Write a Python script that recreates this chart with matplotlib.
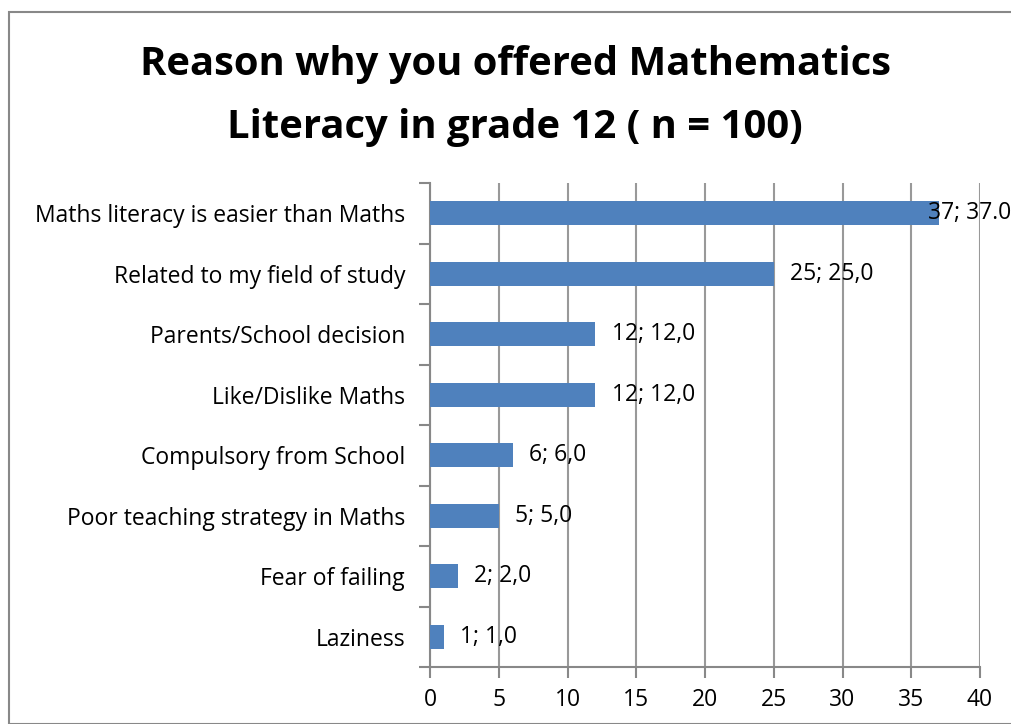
import matplotlib.pyplot as plt
import matplotlib.patches as patches
import numpy as np

# chart data, top to bottom
reasons = ["Maths literacy is easier than Maths", "Related to my field of study",
           "Parents/School decision", "Like/Dislike Maths", "Compulsory from School",
           "Poor teaching strategy in Maths", "Fear of failing", "Laziness"]
counts = [37, 25, 12, 12, 6, 5, 2, 1]
bar_labels = ["37; 37.0", "25; 25,0", "12; 12,0", "12; 12,0", "6; 6,0", "5; 5,0", "2; 2,0", "1; 1,0"]
xticks = [0, 5, 10, 15, 20, 25, 30, 35, 40]

plt.rcParams['font.family'] = ['Open Sans', 'DejaVu Sans']
W, H = 1011, 724
fs = 16.5
fig = plt.figure(figsize=(W / 100, H / 100), dpi=100)

# outer chart frame
fig.patches.append(patches.Rectangle((9 / W, 0), 1.2, (H - 12) / H, transform=fig.transFigure,
                                     fill=False, edgecolor='#888888', linewidth=1.5))

ax = fig.add_axes([430 / W, (H - 667) / H, 550 / W, (667 - 183) / H])
n = len(reasons)
y = np.arange(n)[::-1]
ax.barh(y, counts, height=0.4, color='#4F81BD', zorder=3)
ax.set_xlim(0, 40)
ax.set_ylim(-0.5, n - 0.5)

for yi, v, lab in zip(y, counts, bar_labels):
    if v == max(counts):
        ax.text(v - 0.75, yi, lab, va='center', ha='left', fontsize=fs, clip_on=False, zorder=4)
    else:
        ax.text(v + 1.2, yi, lab, va='center', ha='left', fontsize=fs, zorder=4)

ax.set_xticks(xticks)
ax.set_xticklabels([str(t) for t in xticks], fontsize=fs)
ax.set_yticks(np.arange(n + 1) - 0.5, minor=False)
ax.set_yticklabels([])
ax.set_yticks(y, minor=True)
ax.set_yticklabels(reasons, minor=True, fontsize=fs)
ax.tick_params(axis='y', which='minor', length=0, pad=18)
ax.tick_params(axis='y', which='major', length=8, color='#888888', width=1.5)
ax.tick_params(axis='x', length=8, color='#888888', width=1.5, pad=7)
ax.grid(axis='x', color='#999999', linewidth=1.5, zorder=0)
for s in ['top', 'right']:
    ax.spines[s].set_visible(False)
for s in ['left', 'bottom']:
    ax.spines[s].set_color('#888888')
    ax.spines[s].set_linewidth(1.5)

fig.text(515 / W, 1 - 96 / H, "Reason why you offered Mathematics\nLiteracy in grade 12 ( n = 100)",
         ha='center', va='center', fontsize=28.8, fontweight='bold', linespacing=1.78)

fig.savefig("out.png", dpi=100)
